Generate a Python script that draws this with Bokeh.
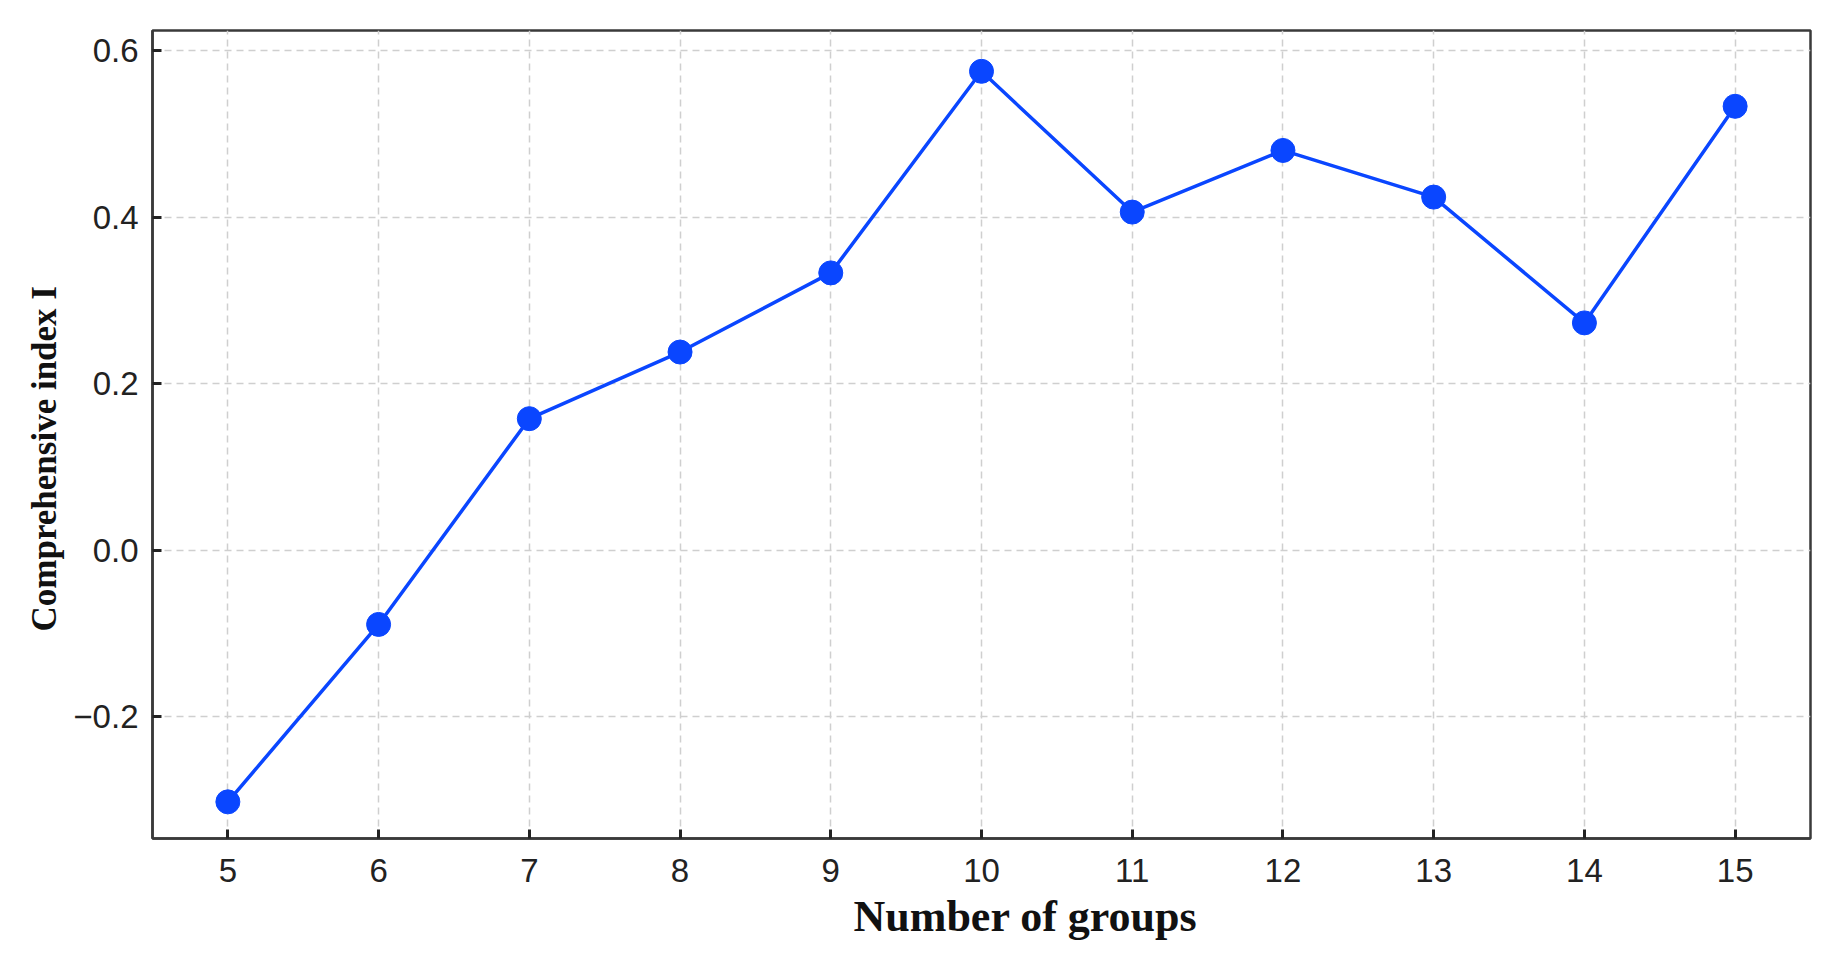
from bokeh.plotting import figure
from bokeh.models import FixedTicker, Range1d, CustomJSTickFormatter, Title
from bokeh.embed import file_html
from bokeh.resources import INLINE

groups = [5, 6, 7, 8, 9, 10, 11, 12, 13, 14, 15]
index_i = [-0.302, -0.089, 0.158, 0.238, 0.333, 0.575, 0.406, 0.480, 0.424, 0.273, 0.533]
y_ticks = [-0.2, 0.0, 0.2, 0.4, 0.6]
x_label = "Number of groups"
y_label = "Comprehensive index I"

p = figure(
    frame_width=1658, frame_height=808,
    min_border_left=152, min_border_top=30, min_border_right=12, min_border_bottom=100,
    x_range=Range1d(4.5, 15.5), y_range=Range1d(-0.346, 0.624),
    output_backend="svg", toolbar_location=None,
)
p.background_fill_color = "white"
p.border_fill_color = "white"
p.outline_line_color = "#3a3a3a"
p.outline_line_width = 2.5

p.line(groups, index_i, line_color="#0a46ff", line_width=3.5)
p.scatter(groups, index_i, size=24, fill_color="#0a46ff", line_color="#0a46ff")

p.xaxis.ticker = FixedTicker(ticks=groups)
p.yaxis.ticker = FixedTicker(ticks=y_ticks)
p.yaxis.formatter = CustomJSTickFormatter(code="return tick.toFixed(1).replace('-', '\u2212');")

for ax in (p.xaxis[0], p.yaxis[0]):
    ax.axis_line_color = "#3a3a3a"
    ax.axis_line_width = 2.5
    ax.major_tick_in = 9
    ax.major_tick_out = 0
    ax.major_tick_line_color = "#222222"
    ax.major_tick_line_width = 3
    ax.minor_tick_line_color = None
    ax.major_label_text_font = "Liberation Sans"
    ax.major_label_text_font_size = "33px"
    ax.major_label_text_color = "#222222"

p.xaxis.major_label_standoff = 20
p.yaxis.major_label_standoff = 14

xt = Title(text=x_label, align="left", offset=701, standoff=10,
           text_font="Liberation Serif", text_font_style="bold",
           text_font_size="44px", text_color="#111111")
p.add_layout(xt, "below")
yt = Title(text=y_label, align="left", offset=207, standoff=14,
           text_font="Liberation Serif", text_font_style="bold",
           text_font_size="35px", text_color="#111111")
p.add_layout(yt, "left")

for g in (p.xgrid[0], p.ygrid[0]):
    g.grid_line_color = "#cfcfcf"
    g.grid_line_width = 1.5
    g.grid_line_dash = "7 5"

open("out.html", "w").write(file_html(p, INLINE))
